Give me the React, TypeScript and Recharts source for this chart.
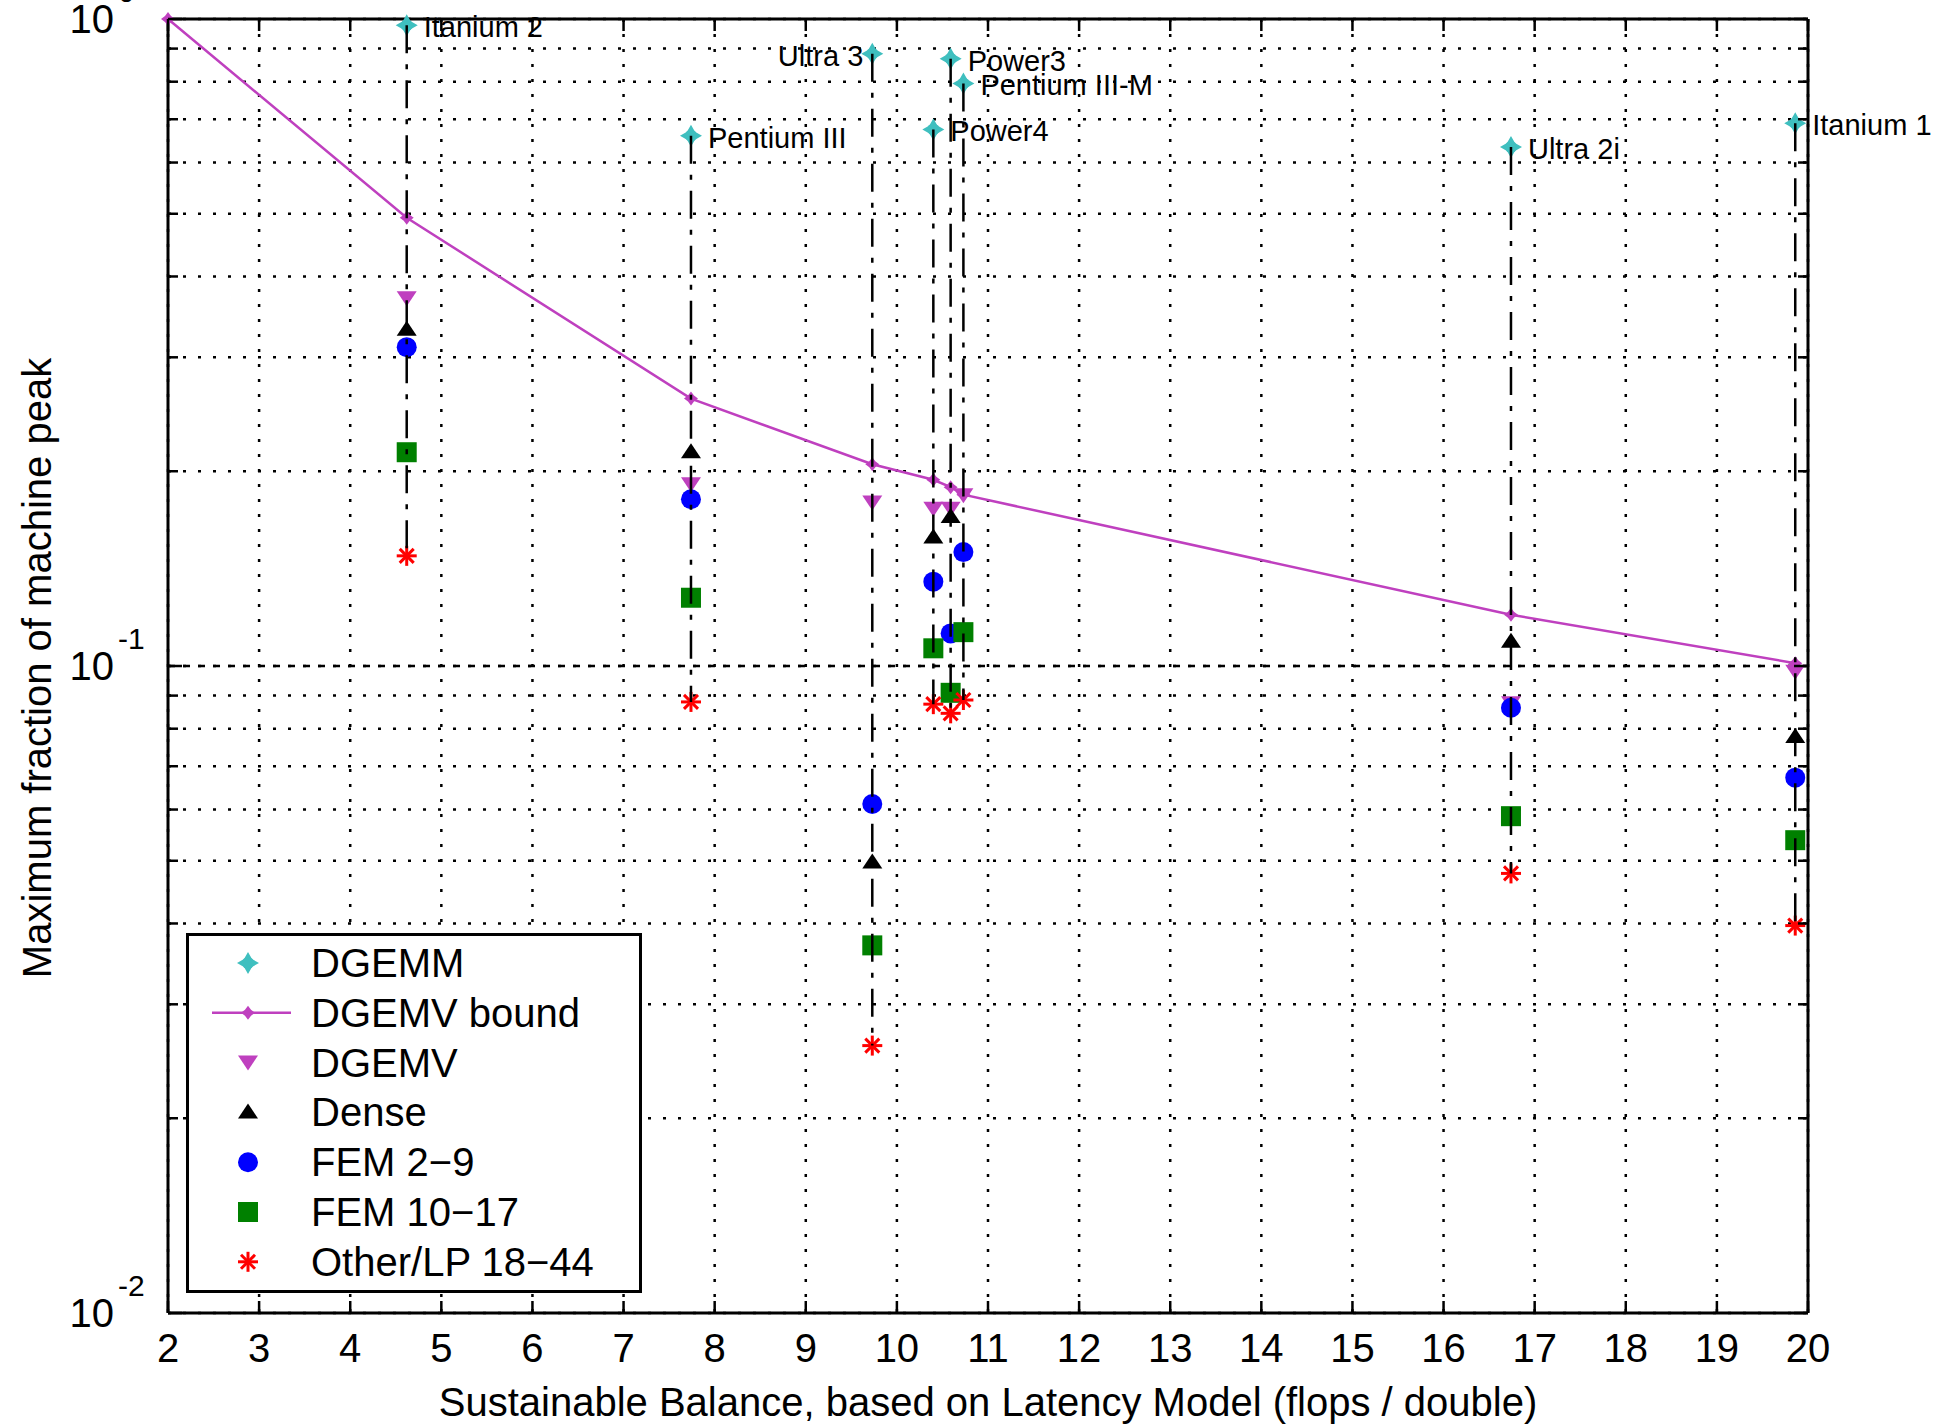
import React from 'react';
import {
  ComposedChart,
  XAxis,
  YAxis,
  CartesianGrid,
  Scatter,
  Line,
  ReferenceLine,
  Label,
} from 'recharts';

// ---------------- data ----------------
const MACHINES = ['Itanium 2', 'Pentium III', 'Ultra 3', 'Power4', 'Power3', 'Pentium III-M', 'Ultra 2i', 'Itanium 1'];
const BALANCE = [4.62, 7.74, 9.73, 10.4, 10.59, 10.73, 16.74, 19.86];
const DGEMM = [0.978, 0.66, 0.884, 0.675, 0.868, 0.795, 0.634, 0.69];
const DGEMV = [0.37, 0.191, 0.179, 0.175, 0.175, 0.1836, 0.0876, 0.098];
const DENSE = [0.331, 0.214, 0.0497, 0.158, 0.17, null, 0.109, 0.0777];
const FEM_2_9 = [0.311, 0.181, 0.0612, 0.135, 0.1123, 0.15, 0.0862, 0.0672];
const FEM_10_17 = [0.214, 0.1275, 0.037, 0.1065, 0.0909, 0.1128, 0.0586, 0.0538];
const OTHER_LP = [0.148, 0.088, 0.0259, 0.0873, 0.0845, 0.0886, 0.0478, 0.0397];

const BOUND_X = [2, 4.62, 7.74, 9.73, 10.4, 10.59, 10.73, 16.74, 19.86];
const BOUND_Y = [1, 0.493, 0.259, 0.205, 0.194, 0.189, 0.184, 0.12, 0.101];

const X_TICKS = [2, 3, 4, 5, 6, 7, 8, 9, 10, 11, 12, 13, 14, 15, 16, 17, 18, 19, 20];
const Y_TICKS = [
  0.01, 0.02, 0.03, 0.04, 0.05, 0.06, 0.07, 0.08, 0.09,
  0.1, 0.2, 0.3, 0.4, 0.5, 0.6, 0.7, 0.8, 0.9, 1,
];
const LEFT_LABELS = ['Ultra 3'];

const LEGEND_NAMES = ['DGEMM', 'DGEMV bound', 'DGEMV', 'Dense', 'FEM 2\u22129', 'FEM 10\u221217', 'Other/LP 18\u221244'];

const X_TITLE = 'Sustainable Balance, based on Latency Model (flops / double)';
const Y_TITLE = 'Maximum fraction of machine peak';

// ---------------- style / layout ----------------
const FONT = "'Liberation Sans', Arial, Helvetica, sans-serif";
const W = 1948;
const H = 1425;
const MARGIN = { top: 19, right: 140, bottom: 0, left: 0 };
const Y_AXIS_W = 168;
const X_AXIS_H = 112;
const PL = MARGIN.left + Y_AXIS_W;
const PR = W - MARGIN.right;
const PT = MARGIN.top;
const PB = H - MARGIN.bottom - X_AXIS_H;

const C_CYAN = '#3FBFBF';
const C_MAG = '#BF40BF';
const C_BLUE = '#0000FF';
const C_GREEN = '#008000';
const C_RED = '#FF0000';

const rows = (vals: (number | null)[]) =>
  vals
    .map((v, i) => ({ x: BALANCE[i], y: v, name: MACHINES[i] }))
    .filter((d) => d.y !== null);

const dgemmData = rows(DGEMM);
const dgemvData = rows(DGEMV);
const denseData = rows(DENSE);
const fem29Data = rows(FEM_2_9);
const fem1017Data = rows(FEM_10_17);
const otherData = rows(OTHER_LP);
const boundData = BOUND_X.map((x, i) => ({ x, y: BOUND_Y[i] }));

// ---------------- marker shapes ----------------
const starPts = (cx: number, cy: number, r: number, k: number) =>
  [
    [0, -r], [k, -k], [r, 0], [k, k], [0, r], [-k, k], [-r, 0], [-k, -k],
  ]
    .map(([dx, dy]) => `${cx + dx},${cy + dy}`)
    .join(' ');

const DgemmMark = ({ cx, cy }: any) => (
  <g>
    <circle cx={cx} cy={cy} r={6} fill={C_CYAN} />
    <polygon points={starPts(cx, cy, 11, 4)} fill={C_CYAN} />
  </g>
);

const BoundMark = ({ cx, cy }: any) => (
  <polygon points={starPts(cx, cy, 7, 3)} fill={C_MAG} />
);

const DownTri = ({ cx, cy }: any) => (
  <polygon points={`${cx - 10},${cy - 7} ${cx + 10},${cy - 7} ${cx},${cy + 8}`} fill={C_MAG} />
);

const UpTri = ({ cx, cy }: any) => (
  <polygon points={`${cx},${cy - 9} ${cx + 10},${cy + 6} ${cx - 10},${cy + 6}`} fill="#000" />
);

const Dot = ({ cx, cy }: any) => <circle cx={cx} cy={cy} r={10} fill={C_BLUE} />;

const Sq = ({ cx, cy }: any) => <rect x={cx - 10} y={cy - 10} width={20} height={20} fill={C_GREEN} />;

const Aster = ({ cx, cy }: any) => (
  <g stroke={C_RED} strokeWidth={3}>
    <line x1={cx - 10} y1={cy} x2={cx + 10} y2={cy} />
    <line x1={cx} y1={cy - 10} x2={cx} y2={cy + 10} />
    <line x1={cx - 7} y1={cy - 7} x2={cx + 7} y2={cy + 7} />
    <line x1={cx - 7} y1={cy + 7} x2={cx + 7} y2={cy - 7} />
  </g>
);

const DgemmWithLabel = (props: any) => {
  const { cx, cy, payload } = props;
  const name = payload?.name ?? '';
  const left = LEFT_LABELS.includes(name);
  return (
    <g>
      <DgemmMark cx={cx} cy={cy} />
      <text
        x={left ? cx - 9 : cx + 17}
        y={cy + 2}
        textAnchor={left ? 'end' : 'start'}
        dominantBaseline="central"
        fontFamily={FONT}
        fontSize={29}
        fill="#000"
      >
        {name}
      </text>
    </g>
  );
};

// ---------------- ticks ----------------
const XTick = (props: any) => {
  const { x, payload } = props;
  return (
    <g>
      <line x1={x} x2={x} y1={PB} y2={PB - 12} stroke="#000" strokeWidth={2.5} />
      <line x1={x} x2={x} y1={PT} y2={PT + 12} stroke="#000" strokeWidth={2.5} />
      <text x={x} y={PB + 49} textAnchor="middle" fontFamily={FONT} fontSize={40} fill="#000">
        {payload.value}
      </text>
    </g>
  );
};

const YTick = (props: any) => {
  const { y, payload } = props;
  const v = payload.value as number;
  const lg = Math.log10(v);
  const exp = Math.round(lg);
  const major = Math.abs(lg - exp) < 1e-6;
  const len = major ? 14 : 10;
  return (
    <g>
      <line x1={PL} x2={PL + len} y1={y} y2={y} stroke="#000" strokeWidth={2.5} />
      <line x1={PR} x2={PR - len} y1={y} y2={y} stroke="#000" strokeWidth={2.5} />
      {major && (
        <g fontFamily={FONT} fill="#000">
          <text x={114} y={y + 14} textAnchor="end" fontSize={40}>
            10
          </text>
          <text x={118} y={y - 17} textAnchor="start" fontSize={30}>
            {exp === 0 ? '0' : `-${Math.abs(exp)}`}
          </text>
        </g>
      )}
    </g>
  );
};

// ---------------- legend ----------------
const LegendBox = () => {
  const icons = [
    (cx: number, cy: number) => <DgemmMark cx={cx} cy={cy} />,
    (cx: number, cy: number) => (
      <g>
        <line x1={23} x2={102} y1={cy} y2={cy} stroke={C_MAG} strokeWidth={2.5} />
        <BoundMark cx={cx} cy={cy} />
      </g>
    ),
    (cx: number, cy: number) => <DownTri cx={cx} cy={cy} />,
    (cx: number, cy: number) => <UpTri cx={cx} cy={cy} />,
    (cx: number, cy: number) => <Dot cx={cx} cy={cy} />,
    (cx: number, cy: number) => <Sq cx={cx} cy={cy} />,
    (cx: number, cy: number) => <Aster cx={cx} cy={cy} />,
  ];
  return (
    <div
      style={{
        position: 'absolute',
        left: 186,
        top: 933,
        width: 456,
        height: 360,
        boxSizing: 'border-box',
        border: '3px solid #000',
        background: '#fff',
      }}
    >
      <svg width={450} height={354} style={{ position: 'absolute', left: 0, top: 0 }}>
        {LEGEND_NAMES.map((n, i) => {
          const cy = 27 + i * 49.8;
          return (
            <g key={n}>
              {icons[i](59, cy)}
              <text x={122} y={cy} dominantBaseline="central" fontFamily={FONT} fontSize={40} fill="#000">
                {n}
              </text>
            </g>
          );
        })}
      </svg>
    </div>
  );
};

// ---------------- chart ----------------
export default function App() {
  return (
    <div style={{ position: 'absolute', left: 0, top: 0, width: W, height: H, background: '#fff', fontFamily: FONT }}>
      <ComposedChart width={W} height={H} margin={MARGIN} style={{ overflow: 'visible' }}>
        <CartesianGrid stroke="#000" strokeWidth={2.5} strokeDasharray="3 12" />
        <XAxis
          dataKey="x"
          type="number"
          domain={[2, 20]}
          ticks={X_TICKS}
          height={X_AXIS_H}
          tickLine={false}
          axisLine={{ stroke: '#000', strokeWidth: 3 }}
          tick={<XTick />}
          interval={0}
        >
          <Label
            content={(p: any) => {
              const vb = p.viewBox || {};
              const cx = (vb.x ?? PL) + (vb.width ?? PR - PL) / 2;
              return (
                <text x={cx} y={H - 9} textAnchor="middle" fontFamily={FONT} fontSize={40} fill="#000">
                  {X_TITLE}
                </text>
              );
            }}
          />
        </XAxis>
        <YAxis
          dataKey="y"
          type="number"
          scale="log"
          domain={[0.01, 1]}
          ticks={Y_TICKS}
          width={Y_AXIS_W}
          tickLine={false}
          axisLine={{ stroke: '#000', strokeWidth: 3 }}
          tick={<YTick />}
          interval={0}
        >
          <Label
            content={(p: any) => {
              const vb = p.viewBox || {};
              const cy = (vb.y ?? PT) + (vb.height ?? PB - PT) / 2 + 2;
              return (
                <text
                  x={37}
                  y={cy}
                  transform={`rotate(-90 37 ${cy})`}
                  textAnchor="middle"
                  dominantBaseline="central"
                  fontFamily={FONT}
                  fontSize={40}
                  fill="#000"
                >
                  {Y_TITLE}
                </text>
              );
            }}
          />
        </YAxis>

        <ReferenceLine y={0.1} stroke="#000" strokeWidth={2.5} strokeDasharray="7 8" />
        <ReferenceLine y={1} stroke="#000" strokeWidth={3} />
        <ReferenceLine x={20} stroke="#000" strokeWidth={3} />

        <Line
          data={boundData}
          dataKey="y"
          type="linear"
          stroke={C_MAG}
          strokeWidth={2.5}
          dot={(p: any) => <BoundMark key={`b${p.index}`} cx={p.cx} cy={p.cy} />}
          activeDot={false}
          isAnimationActive={false}
        />
        <Scatter data={dgemmData} shape={<DgemmWithLabel />} isAnimationActive={false} />
        <Scatter data={dgemvData} shape={<DownTri />} isAnimationActive={false} />
        <Scatter data={denseData} shape={<UpTri />} isAnimationActive={false} />
        <Scatter data={fem29Data} shape={<Dot />} isAnimationActive={false} />
        <Scatter data={fem1017Data} shape={<Sq />} isAnimationActive={false} />
        <Scatter data={otherData} shape={<Aster />} isAnimationActive={false} />

        {MACHINES.map((m, i) => (
          <ReferenceLine
            key={m}
            segment={[
              { x: BALANCE[i], y: DGEMM[i] },
              { x: BALANCE[i], y: OTHER_LP[i] },
            ]}
            stroke="#000"
            strokeWidth={2.5}
            strokeDasharray="28 11 5 11"
            {...({ zIndex: 1000 } as any)}
          />
        ))}
      </ComposedChart>
      <LegendBox />
    </div>
  );
}
